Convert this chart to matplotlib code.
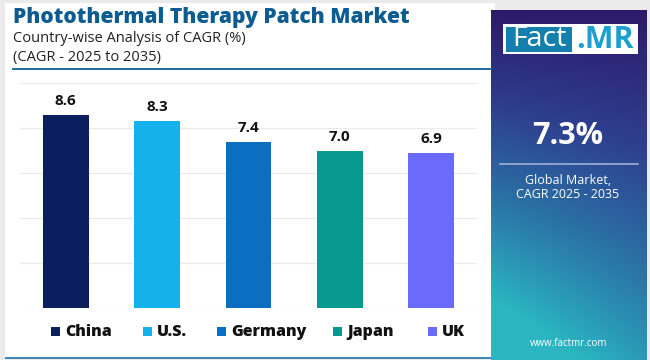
import matplotlib
matplotlib.use("Agg")
import matplotlib.pyplot as plt
import numpy as np
from matplotlib.patches import Rectangle
from matplotlib.colors import LinearSegmentedColormap

categories = ["China", "U.S.", "Germany", "Japan", "UK"]
values = [8.6, 8.3, 7.4, 7.0, 6.9]
colors = ["#0b1f5e", "#14b1ec", "#0a6fc0", "#08998f", "#6b6bfb"]
title = "Photothermal Therapy Patch Market"
subtitle1 = "Country-wise Analysis of CAGR (%)"
subtitle2 = "(CAGR - 2025 to 2035)"
global_value = "7.3%"

W, H = 650, 360
fig = plt.figure(figsize=(6.5, 3.6), dpi=100, facecolor="#ebebeb")

def fx(x): return x / W
def fy(y): return 1 - y / H

# white card
fig.patches.append(Rectangle((fx(5), fy(357)), fx(490), 354 / H, transform=fig.transFigure,
                             facecolor="white", edgecolor="none", zorder=-10))
fig.patches.append(Rectangle((fx(5), fy(359)), fx(490), 2.5 / H, transform=fig.transFigure,
                             facecolor="#3f86b8", edgecolor="none", zorder=-9))

# header
fig.text(fx(13), fy(17), title, fontsize=15.1, fontweight="heavy", color="#0d5c91",
         family="Open Sans", va="center", ha="left")
fig.text(fx(13), fy(38), subtitle1, fontsize=10.5, color="#222222",
         family="Open Sans", va="center", ha="left")
fig.text(fx(13), fy(58), subtitle2, fontsize=10.5, color="#222222",
         family="Open Sans", va="center", ha="left")
fig.add_artist(plt.Line2D([fx(13), fx(491)], [fy(68.5), fy(68.5)], transform=fig.transFigure,
                          color="#1d6b9c", lw=1.4))

# bar chart
ax = fig.add_axes([fx(20), fy(308), fx(457), (308 - 83) / H])
ax.set_facecolor("none")
x = np.arange(len(categories))
ax.bar(x, values, width=0.5, color=colors, zorder=3)
ax.set_ylim(0, 10)
ax.set_xlim(-0.5, len(categories) - 0.5)
ax.set_yticks(np.arange(0, 11, 2))
ax.grid(axis="y", color="#ebebeb", lw=0.9, zorder=0)
for s in ax.spines.values():
    s.set_visible(False)
ax.tick_params(left=False, bottom=False, labelleft=False, labelbottom=False)
for xi, v in zip(x, values):
    ax.annotate(f"{v:.1f}", (xi, v), xytext=(0, 5), textcoords="offset points",
                ha="center", va="bottom", fontsize=11, fontweight="bold", color="#111111",
                family="Open Sans")

# legend
leg_marker_x = [51, 143, 217, 333, 428]
for cx, name, c in zip(leg_marker_x, categories, colors):
    fig.patches.append(Rectangle((fx(cx), fy(336)), fx(9), 9 / H, transform=fig.transFigure,
                                 facecolor=c, edgecolor="none"))
    fig.text(fx(cx + 14), fy(331.5), name, fontsize=11.5, fontweight="heavy", color="#111111",
             family="Open Sans", va="center", ha="left")

# right panel gradient
pax = fig.add_axes([fx(491), 0, fx(156), fy(10)])
ny, nx = 200, 80
yy, xx = np.mgrid[0:1:ny * 1j, 0:1:nx * 1j]
t = np.clip(0.85 * yy + 0.35 * (1 - xx) * yy, 0, 1)
cmap = LinearSegmentedColormap.from_list("g", ["#2d1a6b", "#2e3f8f", "#2a77a8", "#2bb6c2"])
pax.imshow(t, cmap=cmap, aspect="auto", extent=[0, 1, 1, 0], interpolation="bilinear")
pax.set_xlim(0, 1); pax.set_ylim(1, 0)
pax.axis("off")

# logo
fig.patches.append(Rectangle((fx(503), fy(54)), fx(135), 30 / H, transform=fig.transFigure,
                             facecolor="white", edgecolor="none", zorder=3))
fig.patches.append(Rectangle((fx(506), fy(51.5)), fx(66), 25 / H, transform=fig.transFigure,
                             facecolor="#1580ae", edgecolor="none", zorder=4))
fig.text(fx(539), fy(39.5), "Fact", fontsize=20.5, color="white", family="Open Sans",
         ha="center", va="center", zorder=5)
fig.text(fx(605), fy(39.5), ".MR", fontsize=22, fontweight="bold", color="#1da0d0",
         family="Open Sans", ha="center", va="center", zorder=5)

# panel texts
fig.text(fx(568), fy(136), global_value, fontsize=22, fontweight="bold", color="white",
         family="Open Sans", ha="center", va="center")
fig.add_artist(plt.Line2D([fx(500), fx(638)], [fy(164), fy(164)], transform=fig.transFigure,
                          color="#9fb0d6", lw=1.2))
fig.text(fx(568), fy(180), "Global Market,", fontsize=9, color="white",
         family="Open Sans", ha="center", va="center")
fig.text(fx(568), fy(194.5), "CAGR 2025 - 2035", fontsize=9, color="white",
         family="Open Sans", ha="center", va="center")
fig.text(fx(569), fy(344), "www.factmr.com", fontsize=7, color="white",
         family="Open Sans", ha="center", va="center")

fig.savefig("out.png", dpi=100, facecolor=fig.get_facecolor())
